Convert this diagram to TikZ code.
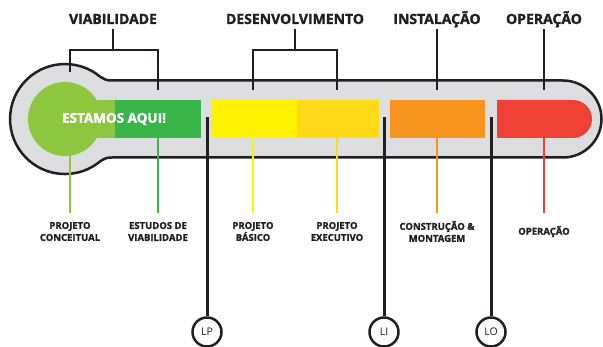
\documentclass[tikz,border=0pt]{standalone}
\usepackage{fontspec}
\setmainfont{Open Sans}[BoldFeatures={FakeBold=1.6}]
\usepackage{tikz}
\definecolor{ink}{HTML}{231F20}
\definecolor{tubo}{HTML}{DCDDDE}
\definecolor{vclaro}{HTML}{8DC63F}
\definecolor{verde}{HTML}{39B54A}
\definecolor{amarelo}{HTML}{FFF200}
\definecolor{ouro}{HTML}{FDD917}
\definecolor{laranja}{HTML}{F7941D}
\definecolor{vermelho}{HTML}{EF4136}

\begin{document}
\begin{tikzpicture}[x=1pt,y=1pt]
\tikzstyle{every node}+=[inner sep=0pt, text=ink]
\tikzstyle{fase}=[font=\bfseries\fontsize{14}{16}\selectfont, text height=10pt, text depth=0pt, inner ysep=5pt]
\tikzstyle{etapa}=[font=\bfseries\fontsize{9.5}{12}\selectfont, align=center, minimum height=37pt]
\tikzstyle{marco}=[draw=ink, circle, fill=white, line width=2.5pt, minimum size=29pt, font=\fontsize{10.5}{12}\selectfont]
\tikzstyle{chave}=[ink, line width=2.2pt]
\tikzstyle{haste}=[line width=2pt]
\useasboundingbox (0,0) rectangle (603,346);
\draw [ink, line width=2.5pt, fill=tubo] (563,265.5) -- (112,265.5) .. controls (106,265.5) and (104,267) .. (100.4,269.1) arc[start angle=50, end angle=310, radius=55] .. controls (104,187) and (106,188.5) .. (112,188.5) -- (563,188.5) arc[start angle=-90, end angle=90, radius=38.5] -- cycle;
\fill [vclaro] (65,227) circle (37);
\fill [vclaro] (65,208) rectangle (115,246);
\fill [verde] (115,208) rectangle (201,246);
\fill [amarelo] (212,208) rectangle (297,246);
\fill [ouro] (297,208) rectangle (379,246);
\fill [laranja] (390,208) rectangle (485,246);
\fill [vermelho] (497,208) -- (573,208) arc[start angle=-90, end angle=90, radius=19] -- (497,246) -- cycle;
\node [text=white, font=\bfseries\fontsize{13.5}{16}\selectfont] (aqui) at (114,227) {ESTAMOS AQUI!};
\node [fase] (viab) at (113,327) {VIABILIDADE};
\node [fase] (desenv) at (295,327) {DESENVOLVIMENTO};
\node [fase] (instal) at (437,327) {INSTALAÇÃO};
\node [fase] (oper) at (544,327) {OPERAÇÃO};
\coordinate (pc0) at (70,274);
\coordinate (ev0) at (158,256);
\coordinate (pb0) at (253,256);
\coordinate (pe0) at (337,256);
\coordinate (co0) at (437,256);
\coordinate (op0) at (544,256);
\draw [chave] (viab) -- (viab |- 0,296);
\draw [chave] (pc0) |- (ev0 |- 0,296) -- (ev0);
\draw [chave] (desenv) -- (desenv |- 0,296);
\draw [chave] (pb0) |- (pe0 |- 0,296) -- (pe0);
\draw [chave] (instal) -- (co0);
\draw [chave] (oper) -- (op0);
\node [etapa] (pconc) at (70,114.5) {PROJETO\\CONCEITUAL};
\node [etapa] (estud) at (158,114.5) {ESTUDOS DE\\VIABILIDADE};
\node [etapa] (pbas) at (253,114.5) {PROJETO\\BÁSICO};
\node [etapa] (pexec) at (337,114.5) {PROJETO\\EXECUTIVO};
\node [etapa] (const) at (437,114.5) {CONSTRUÇÃO \&\\MONTAGEM};
\node [etapa] (opera) at (544,114.5) {OPERAÇÃO};
\coordinate (pc1) at (70,200);
\coordinate (ev1) at (158,208);
\coordinate (pb1) at (253,208);
\coordinate (pe1) at (337,208);
\coordinate (co1) at (437,208);
\coordinate (op1) at (544,208);
\draw [haste, vclaro] (pc1) -- (pconc);
\draw [haste, verde] (ev1) -- (estud);
\draw [haste, amarelo] (pb1) -- (pbas);
\draw [haste, ouro] (pe1) -- (pexec);
\draw [haste, laranja] (co1) -- (const);
\draw [haste, vermelho] (op1) -- (opera);
\node [marco] (lp) at (207,14) {LP};
\node [marco] (li) at (384,14) {LI};
\node [marco] (lo) at (491,14) {LO};
\coordinate (lp0) at (207,229);
\coordinate (li0) at (384,229);
\coordinate (lo0) at (491,229);
\draw [ink, line width=3pt] (lp0) -- (lp);
\draw [ink, line width=3pt] (li0) -- (li);
\draw [ink, line width=3pt] (lo0) -- (lo);
\end{tikzpicture}
\end{document}
